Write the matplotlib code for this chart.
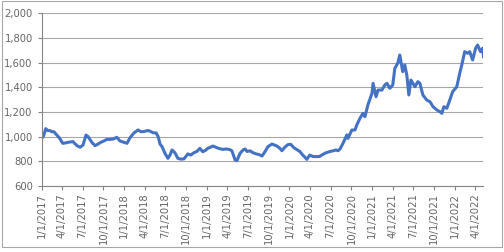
import pandas as pd
import matplotlib
matplotlib.use('Agg')
import matplotlib.pyplot as plt
import matplotlib.patches as patches
from matplotlib.ticker import FuncFormatter


# values
dates = [
    '2017-01-03', '2017-01-10', '2017-01-19', '2017-01-28', '2017-02-06', '2017-02-15',
    '2017-02-24', '2017-03-09', '2017-03-22', '2017-04-04', '2017-04-18', '2017-04-27',
    '2017-05-10', '2017-05-19', '2017-06-06', '2017-06-20', '2017-07-03', '2017-07-16',
    '2017-07-25', '2017-08-12', '2017-08-25', '2017-09-07', '2017-09-20', '2017-10-03',
    '2017-10-16', '2017-10-30', '2017-11-12', '2017-11-29', '2017-12-13', '2017-12-21',
    '2018-01-13', '2018-01-26', '2018-02-13', '2018-03-03', '2018-03-16', '2018-03-29',
    '2018-04-17', '2018-04-30', '2018-05-08', '2018-05-22', '2018-05-31', '2018-06-08',
    '2018-06-17', '2018-06-30', '2018-07-13', '2018-07-22', '2018-07-31', '2018-08-13',
    '2018-08-26', '2018-09-08', '2018-09-22', '2018-10-09', '2018-10-22', '2018-11-05',
    '2018-11-18', '2018-12-01', '2018-12-14', '2018-12-27', '2019-01-05', '2019-01-18',
    '2019-01-27', '2019-02-09', '2019-02-22', '2019-03-12', '2019-03-29', '2019-04-13',
    '2019-04-22', '2019-05-06', '2019-05-14', '2019-05-28', '2019-06-10', '2019-06-19',
    '2019-06-28', '2019-07-11', '2019-07-24', '2019-08-07', '2019-08-20', '2019-09-02',
    '2019-09-15', '2019-09-28', '2019-10-16', '2019-10-29', '2019-11-07', '2019-11-20',
    '2019-11-29', '2019-12-12', '2019-12-25', '2020-01-07', '2020-01-21', '2020-02-03',
    '2020-02-16', '2020-02-29', '2020-03-09', '2020-03-18', '2020-03-31', '2020-04-13',
    '2020-04-26', '2020-05-14', '2020-05-27', '2020-06-09', '2020-06-29', '2020-07-12',
    '2020-07-25', '2020-08-03', '2020-08-12', '2020-08-25', '2020-09-11', '2020-09-16',
    '2020-10-03', '2020-10-17', '2020-10-25', '2020-11-08', '2020-11-21', '2020-11-30',
    '2020-12-13', '2020-12-31', '2021-01-05', '2021-01-18', '2021-01-27', '2021-02-13',
    '2021-02-26', '2021-03-07', '2021-03-20', '2021-04-02', '2021-04-11', '2021-04-24',
    '2021-05-03', '2021-05-16', '2021-05-25', '2021-06-03', '2021-06-12', '2021-06-21',
    '2021-06-30', '2021-07-09', '2021-07-22', '2021-07-31', '2021-08-13', '2021-08-30',
    '2021-09-13', '2021-09-27', '2021-10-14', '2021-10-27', '2021-11-05', '2021-11-14',
    '2021-11-27', '2021-12-10', '2021-12-23', '2022-01-10', '2022-01-23', '2022-02-01',
    '2022-02-14', '2022-02-27', '2022-03-08', '2022-03-21', '2022-04-03', '2022-04-12',
    '2022-04-25', '2022-05-04', '2022-05-08',
]
values = [
    990, 1010, 1065, 1050, 1049, 1040,
    1040, 1013, 986, 946, 950, 954,
    958, 960, 927, 914, 933, 1013,
    1000, 951, 927, 940, 955, 965,
    978, 978, 980, 995, 965, 960,
    946, 990, 1030, 1054, 1040, 1042,
    1050, 1040, 1032, 1030, 1000, 940,
    919, 865, 824, 850, 892, 870,
    824, 818, 820, 860, 851, 870,
    880, 905, 878, 890, 905, 915,
    924, 915, 905, 897, 900, 895,
    885, 811, 805, 865, 892, 900,
    880, 885, 870, 860, 855, 843,
    878, 919, 940, 930, 924, 905,
    886, 915, 935, 938, 910, 895,
    880, 851, 835, 816, 851, 840,
    838, 840, 855, 868, 880, 885,
    892, 886, 900, 946, 1014, 986,
    1054, 1054, 1095, 1149, 1189, 1162,
    1257, 1351, 1432, 1324, 1378, 1378,
    1419, 1432, 1392, 1419, 1554, 1595,
    1662, 1527, 1581, 1500, 1338, 1459,
    1432, 1405, 1446, 1432, 1338, 1297,
    1284, 1243, 1216, 1203, 1189, 1243,
    1230, 1297, 1365, 1405, 1514, 1581,
    1689, 1676, 1689, 1622, 1716, 1743,
    1689, 1716, 1649,
]
y_ticks = [600, 800, 1000, 1200, 1400, 1600, 1800, 2000]
x_ticks = pd.date_range('2017-01-01', '2022-04-01', freq='QS')

grey_txt = '#666666'
grey_line = '#a6a6a6'

fig = plt.figure(figsize=(5.04, 2.52), dpi=100)
ax = fig.add_axes([0.0827, 0.2619, 0.8766, 0.6853])

# outer chart border like excel
border = patches.Rectangle((0.003, 0.02), 0.993, 0.975, transform=fig.transFigure,
                           fill=False, edgecolor=grey_line, linewidth=0.8)
fig.patches.append(border)

ax.plot(pd.to_datetime(dates), values, color='#4472C4', linewidth=2.2, solid_joinstyle='round')

ax.set_ylim(600, 2000)
ax.set_xlim(pd.Timestamp('2017-01-01'), pd.Timestamp('2022-05-08'))
ax.set_yticks(y_ticks)
ax.yaxis.set_major_formatter(FuncFormatter(lambda v, p: f'{int(v):,}'))
ax.set_xticks(x_ticks)
ax.set_xticklabels([f'{d.month}/{d.day}/{d.year}' for d in x_ticks], rotation=90)

ax.grid(True, axis='y', color=grey_line, linewidth=0.8)
ax.set_axisbelow(True)
for s in ['top', 'right']:
    ax.spines[s].set_visible(False)
for s in ['left', 'bottom']:
    ax.spines[s].set_color('#868686')
    ax.spines[s].set_linewidth(0.8)
ax.tick_params(axis='both', colors='#868686', labelcolor=grey_txt, labelsize=7.2,
               length=3, width=0.8, direction='out')
ax.tick_params(axis='x', pad=2)

fig.savefig('out.png', dpi=100)
